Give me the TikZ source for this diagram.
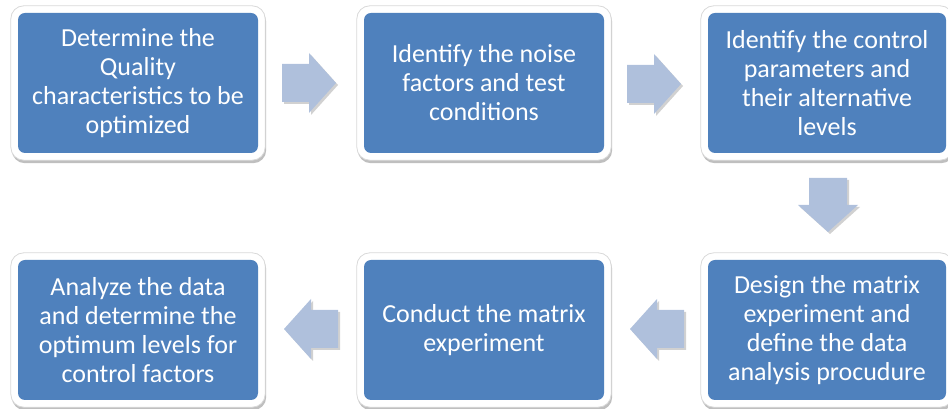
\documentclass[tikz,border=0pt]{standalone}
\usepackage{fontspec}
\setmainfont{Carlito}
\usetikzlibrary{shadows,backgrounds}
\definecolor{boxblue}{HTML}{4F81BD}
\definecolor{arrowblue}{HTML}{AFC0DC}
\begin{document}
\begin{tikzpicture}[x=1pt,y=1pt,
  stepbox/.style={fill=boxblue, rounded corners=7pt, minimum width=240pt, minimum height=140pt,
    inner sep=0pt, align=center, text=white, font=\fontsize{26}{29}\selectfont},
  framebox/.style={fill=white, draw=black!15, line width=0.8pt, rounded corners=13pt,
    drop shadow={shadow xshift=1pt, shadow yshift=-3pt, fill=black, opacity=0.25}},
  blockarrow/.style={fill=arrowblue,
    drop shadow={shadow xshift=2pt, shadow yshift=-2pt, fill=black, opacity=0.18}}]
\useasboundingbox (0,0) rectangle (948,409);
\node[stepbox] (b1) at (138,326) {Determine the\\Quality\\characteristics to be\\optimized};
\node[stepbox] (b2) at (484,326) {Identify the noise\\factors and test\\conditions};
\node[stepbox, minimum width=238pt] (b3) at (827,326) {Identify the control\\parameters and\\their alternative\\levels};
\node[stepbox, minimum width=238pt] (b6) at (827,79) {Design the matrix\\experiment and\\define the data\\analysis procudure};
\node[stepbox] (b5) at (484,79) {Conduct the matrix\\experiment};
\node[stepbox] (b4) at (138,79) {Analyze the data\\and determine the\\optimum levels for\\control factors};
\begin{scope}[on background layer]
  \foreach \n in {b1,b2,b3,b4,b5,b6}
    \draw[framebox] ([shift={(-7,-7)}]\n.south west) rectangle ([shift={(7,7)}]\n.north east);
\end{scope}
\coordinate (m1) at (309,326);
\coordinate (m2) at (654,325);
\coordinate (m3) at (828,204);
\coordinate (m4) at (657,80);
\coordinate (m5) at (311,80);
\foreach \m/\r in {m1/0, m2/0, m3/-90, m4/180, m5/180}
  \fill[blockarrow, shift={(\m)}, rotate=\r]
    (-27,-19) -- (0,-19) -- (0,-30) -- (27,0) -- (0,30) -- (0,19) -- (-27,19) -- cycle;
\end{tikzpicture}
\end{document}
